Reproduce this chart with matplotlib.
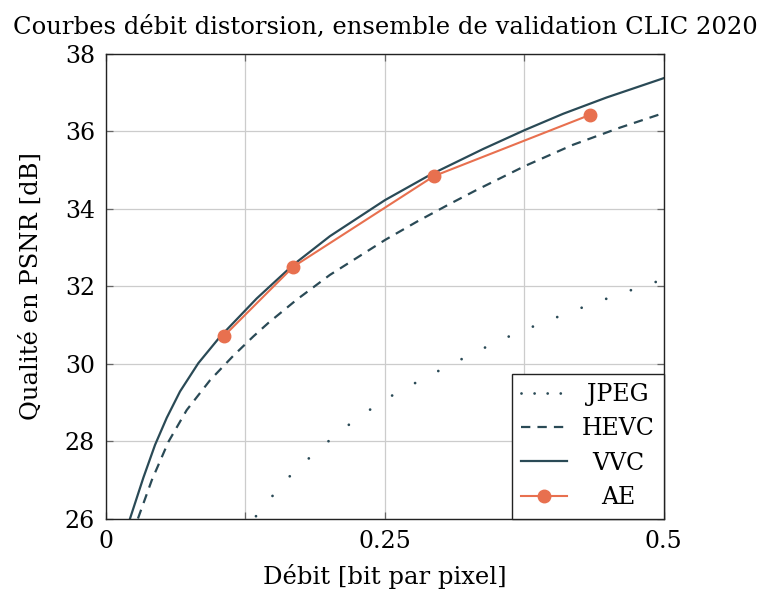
import matplotlib
matplotlib.use("Agg")
import matplotlib.pyplot as plt
from matplotlib.lines import Line2D

# Data
jpeg_x = [0.1344, 0.1494, 0.1643, 0.1813, 0.1983, 0.2162, 0.2345, 0.2536, 0.2739, 0.2939,
          0.3142, 0.3351, 0.3554, 0.376, 0.3972, 0.4187, 0.4402, 0.4621, 0.4839, 0.500]
jpeg_y = [26.06, 26.59, 27.08, 27.54, 27.97, 28.39, 28.77, 29.13, 29.45, 29.75,
          30.05, 30.35, 30.63, 30.88, 31.12, 31.36, 31.59, 31.81, 32.03, 32.17]
hevc_x = [0.0286, 0.041, 0.0559, 0.0723, 0.0932, 0.114, 0.132, 0.1455, 0.1709, 0.2007,
          0.25, 0.2784, 0.308, 0.332, 0.3754, 0.4187, 0.4605, 0.500]
hevc_y = [26.0, 26.99, 27.98, 28.80, 29.57, 30.20, 30.70, 31.05, 31.65, 32.29,
          33.19, 33.66, 34.12, 34.48, 35.10, 35.65, 36.09, 36.47]
vvc_x = [0.0215, 0.0334, 0.0439, 0.0544, 0.0663, 0.0827, 0.1021, 0.135, 0.1678, 0.2007,
         0.25, 0.2903, 0.338, 0.3754, 0.4098, 0.4487, 0.500]
vvc_y = [26.0, 27.05, 27.90, 28.60, 29.28, 30.01, 30.69, 31.68, 32.55, 33.29,
         34.22, 34.87, 35.54, 36.03, 36.45, 36.87, 37.37]
ae_x = [0.106, 0.1678, 0.2939, 0.4337]
ae_y = [30.72, 32.50, 34.84, 36.42]

labels = ["JPEG", "HEVC", "VVC", "AE"]
title = "Courbes débit distorsion, ensemble de validation CLIC 2020"
xlabel = "Débit [bit par pixel]"
ylabel = "Qualité en PSNR [dB]"
xticks = [0, 0.125, 0.25, 0.375, 0.5]
xticklabels = ["0", "", "0.25", "", "0.5"]
yticks = [26, 28, 30, 32, 34, 36, 38]

dark = "#2a4a56"
orange = "#e8704f"

plt.rcParams['font.family'] = ['DejaVu Serif']

fig = plt.figure(figsize=(7.63, 5.93), dpi=100)
ax = fig.add_axes([0.139, 0.1256, 0.731, 0.7838])

ax.plot(jpeg_x, jpeg_y, color=dark, lw=2.0, linestyle=(0, (0.01, 9.4)),
        dash_capstyle='round')
ax.plot(hevc_x, hevc_y, color=dark, lw=1.6, linestyle=(0, (4.2, 3.2)))
ax.plot(vvc_x, vvc_y, color=dark, lw=1.6, linestyle='-')
ax.plot(ae_x, ae_y, color=orange, lw=1.5, marker='o', markersize=9)

ax.set_xlim(0, 0.5)
ax.set_ylim(26, 38)
ax.set_xticks(xticks)
ax.set_xticklabels(xticklabels)
ax.set_yticks(yticks)
ax.grid(True, color="#cccccc", lw=0.9)
ax.set_axisbelow(True)
ax.tick_params(direction='in', top=True, right=True, length=5, width=0.9, color='#666666',
               labelsize=17, pad=8)
for s in ax.spines.values():
    s.set_linewidth(1.0)
    s.set_color('#222222')

ax.set_title(title, fontsize=17.5, pad=14)
ax.set_xlabel(xlabel, fontsize=17.5, labelpad=8)
ax.set_ylabel(ylabel, fontsize=17.5, labelpad=16)

handles = [
    Line2D([], [], color=dark, lw=2.0, linestyle=(0, (0.01, 4.7)), dash_capstyle='round'),
    Line2D([], [], color=dark, lw=1.6, linestyle=(0, (4.2, 3.2))),
    Line2D([], [], color=dark, lw=1.6),
    Line2D([], [], color=orange, lw=1.5, marker='o', markersize=9),
]
leg = ax.legend(handles, labels, loc='lower right', fontsize=17, frameon=True,
                fancybox=False, edgecolor='#222222', framealpha=1, borderaxespad=0,
                handlelength=1.95, labelspacing=0.48, borderpad=0.4, handletextpad=0.6)
leg.get_frame().set_linewidth(1.0)

# centre the legend labels within their column
fig.canvas.draw()
r = fig.canvas.get_renderer()
texts = leg.get_texts()
widths = [t.get_window_extent(r).width for t in texts]
maxw = max(widths)
for t, w in zip(texts, widths):
    t.set_x((maxw - w) / 2)

fig.savefig("out.png", dpi=100)
